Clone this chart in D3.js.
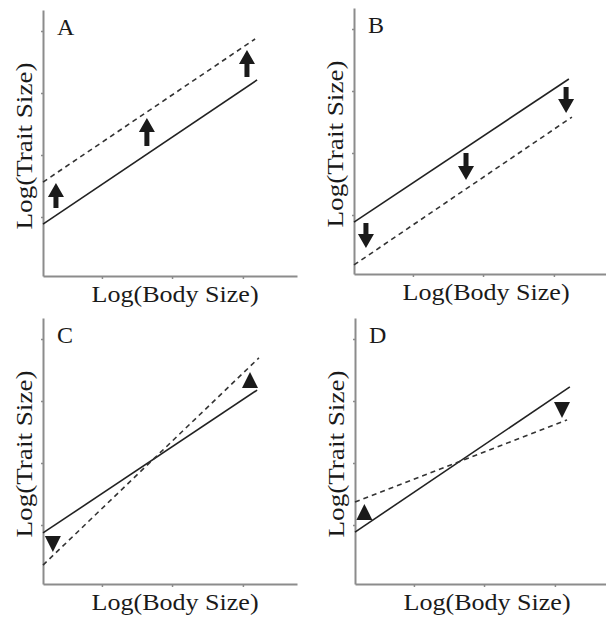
<!DOCTYPE html>
<html>
<head>
<meta charset="utf-8">
<script src="https://cdn.jsdelivr.net/npm/d3@7"></script>
<style>
  html, body { margin: 0; padding: 0; background: #fff; }
  svg { display: block; }
</style>
</head>
<body>
<svg id="chart" width="606" height="619"></svg>
<script>
// ---- data (arbitrary units, 0-100 on both axes) ----
const panelLabels = ["A", "B", "C", "D"];
const xAxisTitle = "Log(Body Size)";
const yAxisTitle = "Log(Trait Size)";
const xTicks = [23.2, 50.8, 78.7];
const yTicks = [22.2, 45.5, 68.8, 92.1];

// solid (reference) allometry lines per panel: [x, y] endpoints
const solidLines = [
  [[0, 19.5], [84.3, 73.7]],
  [[0, 19.5], [84.6, 73.3]],
  [[0, 19.2], [84.3, 72.9]],
  [[0, 19.5], [84.6, 74.1]]
];
// dashed (shifted) lines per panel
const dashedLines = [
  [[0, 35.3], [83.5, 89.1]],
  [[0, 3.4], [85.8, 59.0]],
  [[0, 7.1], [85.0, 85.0]],
  [[0, 30.8], [83.5, 61.7]]
];
// arrows: [x, tail y, tip y]
const arrowsA = [[5.1, 25.6, 35.0], [40.9, 48.9, 59.4], [80.3, 74.8, 85.0]];
const arrowsB = [[4.7, 19.2, 9.8], [44.1, 45.5, 35.3], [83.5, 70.3, 60.5]];
// triangles: [x, y, direction]
const trianglesC = [[3.9, 15.0, "down"], [81.5, 76.7, "up"]];
const trianglesD = [[3.7, 27.1, "up"], [81.5, 65.4, "down"]];

const arrowsByPanel = [arrowsA, arrowsB, [], []];
const trianglesByPanel = [[], [], trianglesC, trianglesD];

// ---- layout ----
const offsets = [{x: 43, y: 10}, {x: 354, y: 8}, {x: 43, y: 318}, {x: 355, y: 318}];
const W = 254, H = 266;
const axisColor = "#8c8c8c";
const lineColor = "#222";
const FONT = "'Liberation Serif', 'Times New Roman', Times, serif";

const svg = d3.select("#chart");

panelLabels.forEach((lab, i) => {
  const o = offsets[i];
  const g = svg.append("g").attr("transform", `translate(${o.x},${o.y})`);
  const x = d3.scaleLinear().domain([0, 100]).range([0, W]);
  const y = d3.scaleLinear().domain([0, 100]).range([H, 0]);

  // axes
  const yAx = g.append("g")
    .call(d3.axisLeft(y).tickValues(yTicks).tickSize(2).tickSizeOuter(0).tickFormat(""));
  const xAx = g.append("g").attr("transform", `translate(0,${H})`)
    .call(d3.axisBottom(x).tickValues(xTicks).tickSize(3).tickSizeOuter(0).tickFormat(""));
  [yAx, xAx].forEach(a => {
    a.select(".domain").attr("stroke", axisColor).attr("stroke-width", 2);
    a.selectAll(".tick line").attr("stroke", axisColor).attr("stroke-width", 1.5);
  });

  const line = d3.line().x(d => x(d[0])).y(d => y(d[1]));

  g.append("path").datum(solidLines[i]).attr("d", line)
    .attr("fill", "none").attr("stroke", lineColor).attr("stroke-width", 1.6);
  g.append("path").datum(dashedLines[i]).attr("d", line)
    .attr("fill", "none").attr("stroke", "#333").attr("stroke-width", 1.6)
    .attr("stroke-dasharray", "5,4");

  // arrows
  const headLen = 14, headHalf = 8, shaftHalf = 2.5;
  g.selectAll(".arrow").data(arrowsByPanel[i]).join("path")
    .attr("class", "arrow")
    .attr("fill", "#1a1a1a")
    .attr("d", d => {
      const cx = x(d[0]), ty = y(d[1]), hy = y(d[2]);
      const dir = hy < ty ? -1 : 1; // -1 pointing up
      const by = hy - dir * headLen;
      return `M${cx - shaftHalf},${ty} L${cx - shaftHalf},${by} L${cx - headHalf},${by} L${cx},${hy} L${cx + headHalf},${by} L${cx + shaftHalf},${by} L${cx + shaftHalf},${ty} Z`;
    });

  // triangles
  const tw = 8, th = 8;
  g.selectAll(".tri").data(trianglesByPanel[i]).join("path")
    .attr("class", "tri")
    .attr("fill", "#1a1a1a")
    .attr("d", d => {
      const cx = x(d[0]), cy = y(d[1]);
      if (d[2] === "up") return `M${cx - tw},${cy + th} L${cx + tw},${cy + th} L${cx},${cy - th} Z`;
      return `M${cx - tw},${cy - th} L${cx + tw},${cy - th} L${cx},${cy + th} Z`;
    });

  // panel letter
  g.append("text").attr("x", 14).attr("y", 25)
    .attr("font-family", FONT).attr("fill", "#1a1a1a")
    .attr("font-size", 24).text(lab);

  // axis titles
  g.append("text")
    .attr("x", W * 0.52).attr("y", H + 26)
    .attr("text-anchor", "middle").attr("font-size", 24)
    .attr("font-family", FONT).attr("fill", "#1a1a1a")
    .attr("textLength", 167).attr("lengthAdjust", "spacingAndGlyphs")
    .text(xAxisTitle);
  g.append("text")
    .attr("transform", `translate(-11,${H / 2 + 3}) rotate(-90)`)
    .attr("text-anchor", "middle").attr("font-size", 24)
    .attr("font-family", FONT).attr("fill", "#1a1a1a")
    .attr("textLength", 167).attr("lengthAdjust", "spacingAndGlyphs")
    .text(yAxisTitle);
});
</script>
</body>
</html>
